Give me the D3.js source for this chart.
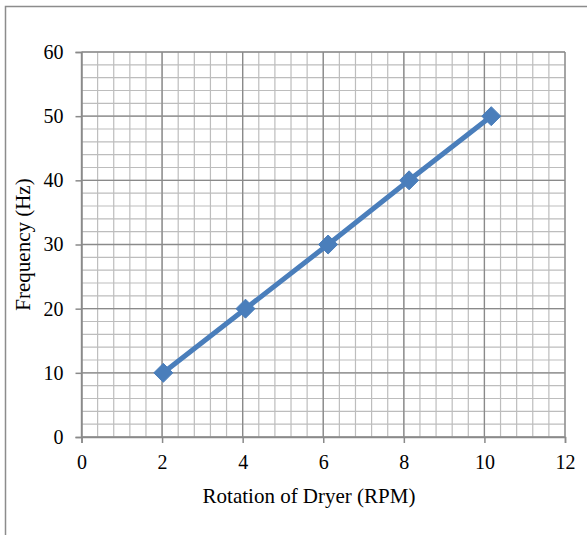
<!DOCTYPE html>
<html>
<head>
<meta charset="utf-8">
<script src="https://cdn.jsdelivr.net/npm/d3@7"></script>
<style>
  body { margin: 0; background: #fff; }
</style>
</head>
<body>
<div id="vis"></div>
<script>
// data
var rpm = [2.03, 4.07, 6.12, 8.13, 10.17],
    freq = [10, 20, 30, 40, 50],
    xTicks = [0, 2, 4, 6, 8, 10, 12],
    yTicks = [0, 10, 20, 30, 40, 50, 60];

var W = 587, H = 535,
    pLeft = 81.5, pRight = 565, pTop = 52, pBottom = 437,
    serif = "'Liberation Serif', 'Times New Roman', serif";

var svg = d3.select("#vis").append("svg")
    .attr("width", W)
    .attr("height", H);

// outer frame (runs off the right and bottom)
svg.append("rect")
    .attr("x", 5.5).attr("y", 6.5)
    .attr("width", W + 10).attr("height", H + 10)
    .attr("fill", "none")
    .attr("stroke", "#8c8c8c")
    .attr("stroke-width", 1.5);

var x = d3.scaleLinear().domain([0, 12]).range([pLeft, pRight]),
    y = d3.scaleLinear().domain([0, 60]).range([pBottom, pTop]);

var g = svg.append("g");

// minor grid
var xMinor = d3.range(0, 12.001, 0.4),
    yMinor = d3.range(0, 60.001, 2);

g.selectAll(".vminor").data(xMinor)
  .enter().append("line")
    .attr("x1", function(d) { return x(d); })
    .attr("x2", function(d) { return x(d); })
    .attr("y1", pTop).attr("y2", pBottom)
    .attr("stroke", "#bdbdbd").attr("stroke-width", 1.2);

g.selectAll(".hminor").data(yMinor)
  .enter().append("line")
    .attr("y1", function(d) { return y(d); })
    .attr("y2", function(d) { return y(d); })
    .attr("x1", pLeft).attr("x2", pRight)
    .attr("stroke", "#bdbdbd").attr("stroke-width", 1.2);

// major grid
g.selectAll(".vmajor").data(xTicks)
  .enter().append("line")
    .attr("x1", function(d) { return x(d); })
    .attr("x2", function(d) { return x(d); })
    .attr("y1", pTop).attr("y2", pBottom)
    .attr("stroke", "#8a8a8a").attr("stroke-width", 1.3);

g.selectAll(".hmajor").data(yTicks)
  .enter().append("line")
    .attr("y1", function(d) { return y(d); })
    .attr("y2", function(d) { return y(d); })
    .attr("x1", pLeft).attr("x2", pRight)
    .attr("stroke", "#8a8a8a").attr("stroke-width", 1.3);

// axes
var xAxis = d3.axisBottom(x).tickValues(xTicks).tickSize(6).tickPadding(12).tickFormat(d3.format("d"));
var yAxis = d3.axisLeft(y).tickValues(yTicks).tickSize(6).tickPadding(12).tickFormat(d3.format("d"));

var gx = svg.append("g").attr("transform", "translate(0," + pBottom + ")").call(xAxis);
var gy = svg.append("g").attr("transform", "translate(" + pLeft + ",0)").call(yAxis);

[gx, gy].forEach(function(a) {
  a.select(".domain").attr("stroke", "#8a8a8a").attr("stroke-width", 1.5);
  a.selectAll(".tick line").attr("stroke", "#8a8a8a").attr("stroke-width", 1.5);
  a.selectAll("text")
    .attr("fill", "#000")
    .style("font-family", serif)
    .style("font-size", "20px");
});

// axis titles
svg.append("text")
    .attr("x", 309).attr("y", 503)
    .attr("text-anchor", "middle")
    .style("font-family", serif)
    .style("font-size", "21px")
    .text("Rotation of Dryer (RPM)");

svg.append("text")
    .attr("transform", "translate(30," + y(30) + ") rotate(-90)")
    .attr("text-anchor", "middle")
    .style("font-family", serif)
    .style("font-size", "21px")
    .text("Frequency (Hz)");

// series
var pts = rpm.map(function(d, i) { return [d, freq[i]]; });

svg.append("path")
    .datum(pts)
    .attr("fill", "none")
    .attr("stroke", "#4a7ebb")
    .attr("stroke-width", 5)
    .attr("d", d3.line()
      .x(function(d) { return x(d[0]); })
      .y(function(d) { return y(d[1]); }));

svg.selectAll(".mk").data(pts)
  .enter().append("path")
    .attr("transform", function(d) { return "translate(" + x(d[0]) + "," + y(d[1]) + ")"; })
    .attr("d", d3.symbol().type(d3.symbolDiamond2).size(230))
    .attr("fill", "#4a7ebb")
    .attr("stroke", "#4a7ebb")
    .attr("stroke-width", 1);
</script>
</body>
</html>
